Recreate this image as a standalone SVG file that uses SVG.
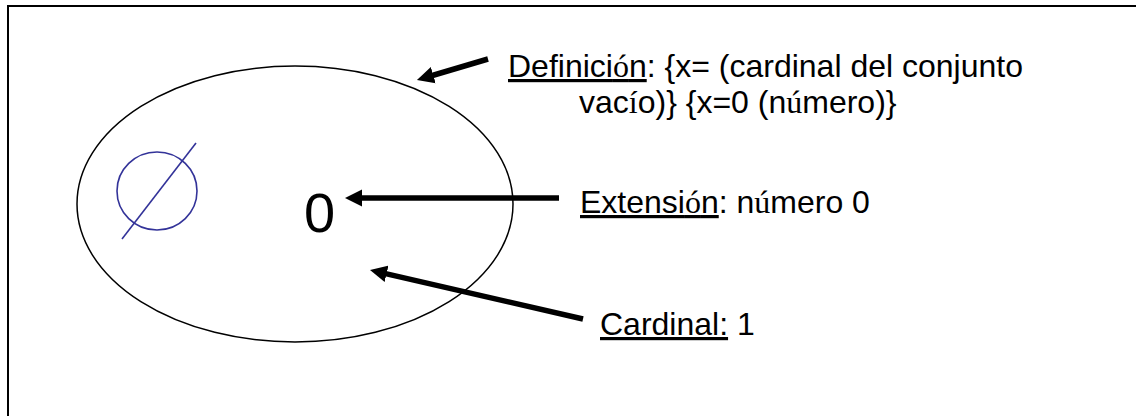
<svg xmlns="http://www.w3.org/2000/svg" width="1136" height="416" viewBox="0 0 1136 416">
  <style>
    .lbl { font-family: "Liberation Sans", Arial, sans-serif; font-size: 32px; fill: #000; }
    .acc { font-family: "Liberation Serif", "Times New Roman", serif; }
    .u { text-decoration: underline; }
    .arrow { fill: none; stroke: #000; stroke-width: 5.5; marker-end: url(#head); }
  </style>
  <defs>
    <marker id="head" markerUnits="userSpaceOnUse" viewBox="0 -9 17 18" markerWidth="17" markerHeight="18" refX="1" refY="0" orient="auto">
      <path d="M0,-8.5 L17,0 L0,8.5 z" fill="#000"/>
    </marker>
  </defs>
  <rect x="0" y="0" width="1136" height="416" fill="#fff"/>
  <rect id="frame" x="8" y="6" width="1140" height="430" fill="none" stroke="#000" stroke-width="2"/>

  <g id="set">
    <ellipse cx="295" cy="204" rx="218" ry="138" fill="none" stroke="#000" stroke-width="1.5"/>
  </g>

  <g id="emptyset" fill="none" stroke="#333399" stroke-width="1.6">
    <ellipse cx="157" cy="191" rx="40" ry="39"/>
    <line x1="196" y1="143" x2="122" y2="239"/>
  </g>

  <g id="zero">
    <text x="304" y="232" style="font-family: 'Liberation Sans', Arial, sans-serif; font-size: 56px;">0</text>
  </g>

  <g id="connectors">
    <path class="arrow" d="M488,59 L432.3,75.5"/>
    <path class="arrow" d="M559,198 L361,198"/>
    <path class="arrow" d="M583,319 L385.6,273.6"/>
  </g>

  <g id="definicion">
    <text class="lbl" x="508" y="77"><tspan class="u">Definici<tspan class="acc">ó</tspan>n</tspan>: {x= (cardinal del conjunto</text>
    <text class="lbl" x="579" y="113">vac<tspan class="acc">í</tspan>o)} {x=0 (n<tspan class="acc">ú</tspan>mero)}</text>
  </g>

  <g id="extension">
    <text class="lbl" x="580" y="213"><tspan class="u">Extensi<tspan class="acc">ó</tspan>n</tspan>: n<tspan class="acc">ú</tspan>mero 0</text>
  </g>

  <g id="cardinal">
    <text class="lbl" x="600" y="335"><tspan class="u">Cardinal:</tspan> 1</text>
  </g>
</svg>
